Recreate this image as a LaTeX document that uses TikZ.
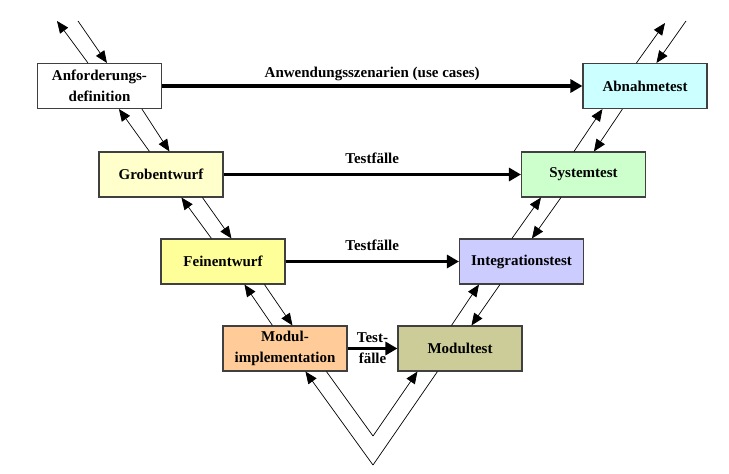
\documentclass[tikz,border=0pt]{standalone}
\usepackage{fontspec}
\setmainfont{Liberation Serif}
\usetikzlibrary{arrows.meta,calc}
\definecolor{cAnf}{HTML}{FFFFFF}
\definecolor{cGrob}{HTML}{FFFFCC}
\definecolor{cFein}{HTML}{FFFF99}
\definecolor{cImpl}{HTML}{FFCC99}
\definecolor{cModt}{HTML}{CCCC99}
\definecolor{cInteg}{HTML}{CCCCFF}
\definecolor{cSys}{HTML}{CCFFCC}
\definecolor{cAbn}{HTML}{CCFFFF}
\begin{document}
\begin{tikzpicture}[x=1pt,y=-1pt,
  phase/.style={draw=black!75, line width=1.1pt, minimum width=124pt, minimum height=45pt,
    inner sep=0pt, align=center, font=\bfseries\fontsize{15}{21}\selectfont},
  flow/.style={line width=0.7pt, -{Triangle[length=12pt,width=10pt]}},
  plain/.style={line width=0.7pt},
  big/.style={line width=3.2pt, -{Triangle[length=12pt,width=13pt]}},
  lbl/.style={font=\bfseries\fontsize{15}{21}\selectfont, inner sep=0pt}
]
\useasboundingbox (0,0) rectangle (729,474);

% phases
\node[phase, fill=cAnf]   (anf)   at (99.5,86)   {Anforderungs-\\definition};
\node[phase, fill=cGrob]  (grob)  at (161,174.5) {Grobentwurf};
\node[phase, fill=cFein]  (fein)  at (223,261.5) {Feinentwurf};
\node[phase, fill=cImpl]  (impl)  at (285,348.5) {Modul-\\implementation};
\node[phase, fill=cModt]  (modt)  at (460,348.5) {Modultest};
\node[phase, fill=cInteg] (integ) at (521.5,261.5) {Integrationstest};
\node[phase, fill=cSys]   (sys)   at (583.5,174.5) {Systemtest};
\node[phase, fill=cAbn]   (abn)   at (645,86)    {Abnahmetest};

% free ends
\coordinate (anfup) at (57,21);
\coordinate (anfdn) at (78,21);
\coordinate (abnup) at (665,23);
\coordinate (abndn) at (686,21);
\coordinate (vin)   at (373,436);
\coordinate (vout)  at (373,465);

% horizontal test-case arrows
\draw[big] (anf) -- node[lbl, anchor=base, yshift=9pt] {Anwendungsszenarien (use cases)} (abn);
\draw[big] (grob) -- node[lbl, anchor=base, yshift=11pt] {Testfälle} (sys);
\draw[big] (fein) -- node[lbl, anchor=base, yshift=11pt] {Testfälle} (integ);
\draw[big] (impl) -- node[lbl, align=center] {Test-\\fälle} (modt);

% left branch
\draw[flow] ([xshift=51pt]anf.north west) -- (anfup);
\draw[flow] (anfdn) -- ([xshift=70pt]anf.north west);
\draw[flow] ([xshift=105pt]anf.south west) -- ([xshift=71pt]grob.north west);
\draw[flow] ([xshift=51pt]grob.north west) -- ([xshift=82pt]anf.south west);
\draw[flow] ([xshift=104pt]grob.south west) -- ([xshift=71pt]fein.north west);
\draw[flow] ([xshift=51pt]fein.north west) -- ([xshift=83pt]grob.south west);
\draw[flow] ([xshift=104pt]fein.south west) -- ([xshift=70pt]impl.north west);
\draw[flow] ([xshift=50pt]impl.north west) -- ([xshift=84pt]fein.south west);

% right branch
\draw[flow] ([xshift=54pt]modt.north west) -- ([xshift=20pt]integ.south west);
\draw[flow] ([xshift=41pt]integ.south west) -- ([xshift=74pt]modt.north west);
\draw[flow] ([xshift=53pt]integ.north west) -- ([xshift=20pt]sys.south west);
\draw[flow] ([xshift=40pt]sys.south west) -- ([xshift=73pt]integ.north west);
\draw[flow] ([xshift=53pt]sys.north west) -- ([xshift=20pt]abn.south west);
\draw[flow] ([xshift=40pt]abn.south west) -- ([xshift=73pt]sys.north west);
\draw[flow] ([xshift=54pt]abn.north west) -- (abnup);
\draw[flow] (abndn) -- ([xshift=74pt]abn.north west);

% bottom V
\draw[plain] ([xshift=104pt]impl.south west) -- (vin);
\draw[flow] (vin) -- ([xshift=20pt]modt.south west);
\draw[plain] ([xshift=40pt]modt.south west) -- (vout);
\draw[flow] (vout) -- ([xshift=83pt]impl.south west);
\end{tikzpicture}
\end{document}
